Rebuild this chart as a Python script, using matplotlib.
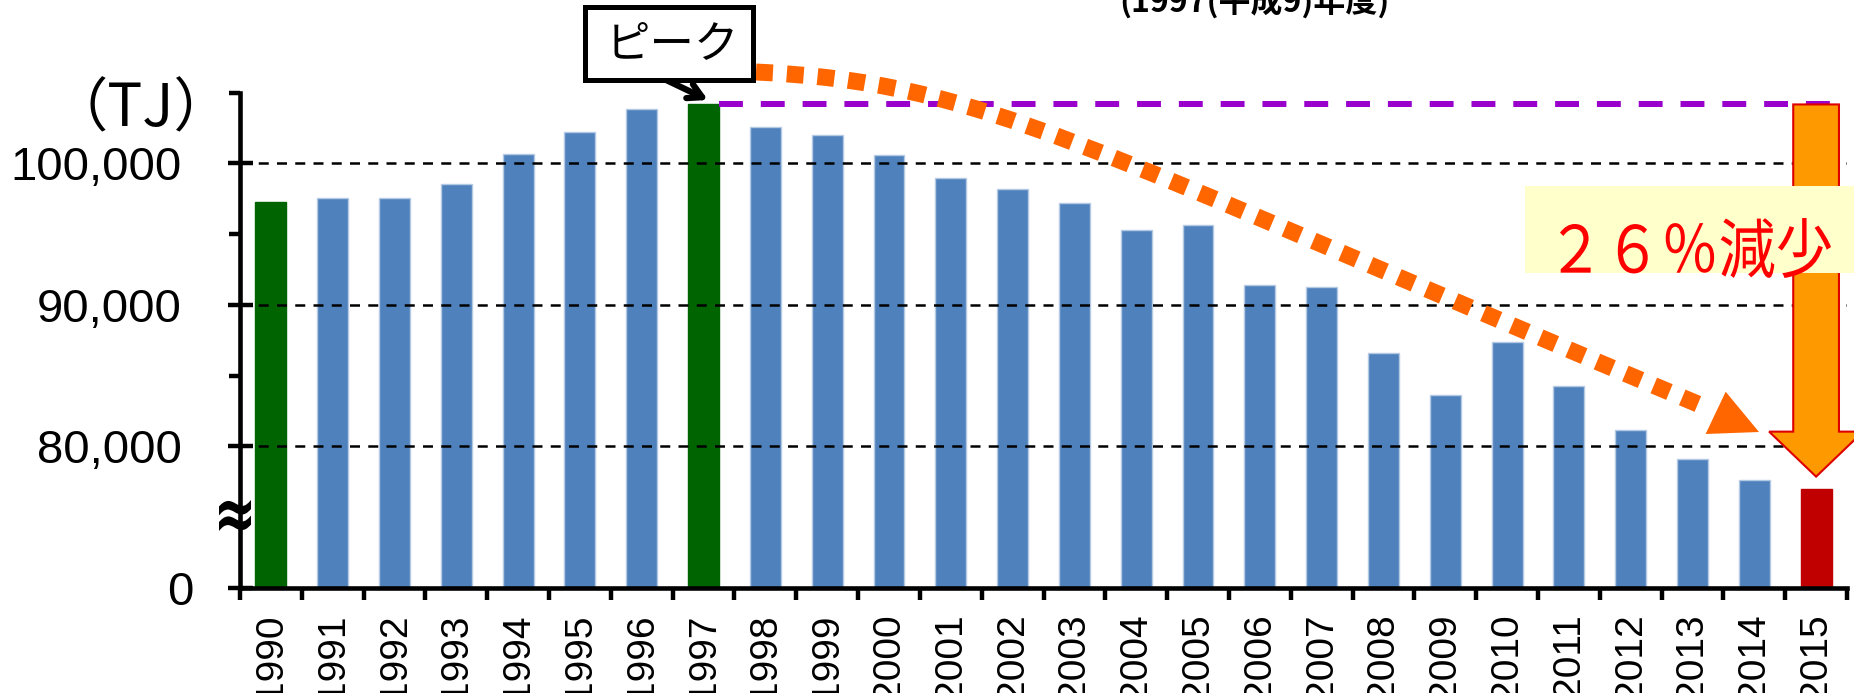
import matplotlib
matplotlib.use('Agg')
import matplotlib.pyplot as plt
import matplotlib.patches as mpatches
from matplotlib.path import Path
from matplotlib.textpath import TextPath
from matplotlib.font_manager import FontProperties
from matplotlib.transforms import Affine2D, ScaledTranslation

plt.rcParams['font.family'] = ['Liberation Sans', 'Noto Sans CJK JP', 'DejaVu Sans']

# data (TJ)
years = ['1990', '1991', '1992', '1993', '1994', '1995', '1996', '1997', '1998', '1999',
         '2000', '2001', '2002', '2003', '2004', '2005', '2006', '2007', '2008', '2009',
         '2010', '2011', '2012', '2013', '2014', '2015']
values = [97280, 97540, 97580, 98520, 100680, 102220, 103870, 104170, 102550, 102040,
          100580, 98990, 98190, 97230, 95310, 95640, 91440, 91300, 86610, 83660,
          87380, 84250, 81150, 79090, 77620, 76970]
ytick_values = [70000, 80000, 90000, 100000]
ytick_labels = ['0', '80,000', '90,000', '100,000']
yminor_values = [85000, 95000, 105000]
highlight_green = ['1990', '1997']
highlight_red = ['2015']

W, H = 1854, 693
fig = plt.figure(figsize=(W / 100, H / 100), dpi=100)
ax = fig.add_axes([240 / W, 1 - 588 / H, (1847 - 240) / W, (588 - 92.7) / H])

x = list(range(len(years)))
colors, edges = [], []
for y in years:
    if y in highlight_green:
        colors.append('#006400'); edges.append('#006400')
    elif y in highlight_red:
        colors.append('#C00000'); edges.append('#C00000')
    else:
        colors.append('#4F81BD'); edges.append('#B4C9E4')
bar_w = 0.5
ax.bar(x, values, width=bar_w, color=colors, edgecolor=edges, linewidth=1, zorder=2)

ax.set_xlim(-0.5, len(years) - 0.5)
ax.set_ylim(70000, 105000)

for s in ['top', 'right']:
    ax.spines[s].set_visible(False)
for s in ['left', 'bottom']:
    ax.spines[s].set_linewidth(3.3)

ax.set_yticks(ytick_values)
ax.set_yticklabels(ytick_labels)
ax.set_yticks(yminor_values, minor=True)
ax.tick_params(axis='y', which='major', direction='inout', length=18, width=3.2,
               labelsize=34, pad=33)
ax.tick_params(axis='y', which='minor', direction='out', length=8, width=3.2)
zero_lab = ax.get_yticklabels()[0]
zero_lab.set_transform(zero_lab.get_transform() + ScaledTranslation(0.12, 0, fig.dpi_scale_trans))

ax.set_xticks(x)
ax.set_xticklabels(years, rotation=90, va='top')
ax.set_xticks([i - 0.5 for i in range(len(years) + 1)], minor=True)
ax.tick_params(axis='x', which='major', length=0, labelsize=28, pad=18)
ax.tick_params(axis='x', which='minor', direction='out', length=8.6, width=3.2)

ax.set_axisbelow(False)
ax.grid(axis='y', which='major', color='black', linewidth=1.8, linestyle=(0, (4, 3.3)))

# pixel coordinates (from the top-left corner) for the callouts
px = Affine2D().scale(1 / W, -1 / H).translate(0, 1) + fig.transFigure


def fitted_text(s, x0, y0, x1, y1, family, color, z, weight='normal'):
    # text outline stretched into the box (x0, y0)-(x1, y1), pixels from top-left
    tp = TextPath((0, 0), s, size=10, prop=FontProperties(family=family, weight=weight))
    ext = tp.get_extents()
    sx = (x1 - x0) / ext.width
    sy = (y1 - y0) / ext.height
    tr = Affine2D().translate(-ext.x0, -ext.y1).scale(sx, -sy).translate(x0, y0)
    fig.add_artist(mpatches.PathPatch(tr.transform_path(tp), transform=px, facecolor=color,
                                      edgecolor='none', zorder=z))


# break mark on the y axis
fitted_text('≈', 219, 500, 251, 531, 'DejaVu Sans', 'black', 10, weight='bold')

# peak reference line and reduction arrow
peak_i = values.index(max(values))
peak = values[peak_i]
ax.plot([x[peak_i] + bar_w / 2, x[-1] + bar_w / 2], [peak, peak], color='#9900CC',
        linewidth=4.3, linestyle=(0, (4, 3)), solid_capstyle='butt', clip_on=False, zorder=3)
tip = values[-1] + 900
arrow = mpatches.FancyArrow(x[-1], peak, 0, -(peak - tip), width=0.74, head_width=1.52,
                            head_length=3180, length_includes_head=True,
                            facecolor='#FF9900', edgecolor='#DD0000', linewidth=1.5,
                            clip_on=False, zorder=6)
ax.add_patch(arrow)

# dotted trend curve with arrow head
curve = Path([(756, 72), (983, 83), (1073, 142), (1705, 407)],
             [Path.MOVETO, Path.CURVE4, Path.CURVE4, Path.CURVE4])
fig.add_artist(mpatches.PathPatch(curve, transform=px, fill=False, edgecolor='#FF6600',
                                  linewidth=12.2, linestyle=(0, (1, 0.82)), capstyle='butt',
                                  zorder=7))
fig.add_artist(mpatches.Polygon([(1759, 432), (1725.7, 391.7), (1705.6, 434)], closed=True,
                                transform=px, facecolor='#FF6600', edgecolor='none', zorder=7))

# yellow label box
fig.add_artist(mpatches.Rectangle((1525, 186), 340, 87, transform=px, facecolor='#FFFFCC',
                                  edgecolor='none', zorder=8))
fitted_text('２６％減少', 1560, 218, 1831, 278, 'Noto Sans CJK JP', '#FF0000', 9)

# peak callout box
fig.add_artist(mpatches.Rectangle((585, 7), 168, 73, transform=px, facecolor='white',
                                  edgecolor='black', linewidth=3.6, zorder=8))
fig.text(672 / W, 1 - 44 / H, 'ピーク', ha='center', va='center', fontsize=32,
         family=['Noto Sans CJK JP'], zorder=9)
ax.annotate('', xy=(708, 100), xycoords=px, xytext=(662, 78), textcoords=px,
            arrowprops=dict(arrowstyle='->,head_length=1.0,head_width=0.55', lw=4.5,
                            color='black', shrinkA=0, shrinkB=0),
            annotation_clip=False, zorder=9)

# unit label and cut-off title
fig.text(141 / W, 1 - 110 / H, '（TJ）', ha='center', va='center', fontsize=42,
         family=['Noto Sans CJK JP'])
fig.text(1254 / W, 1 - 12 / H, '(1997(平成9)年度)', ha='center', va='baseline', fontsize=23,
         fontweight='bold', family=['Noto Sans CJK JP'])

fig.savefig('out.png', dpi=100)
